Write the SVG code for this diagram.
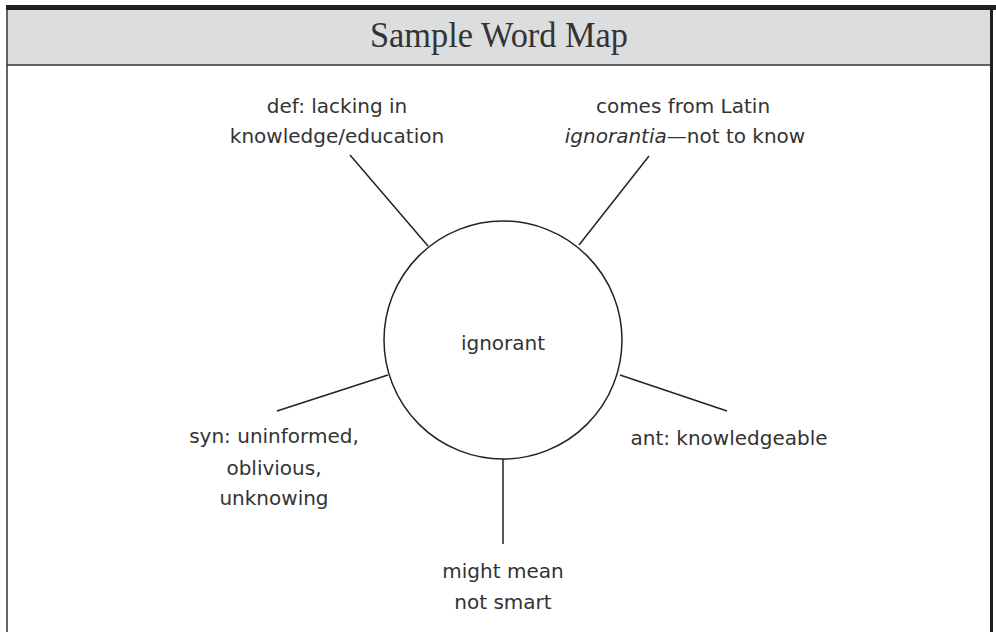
<svg xmlns="http://www.w3.org/2000/svg" width="996" height="632" viewBox="0 0 996 632">
<style>
.t{font-family:"DejaVu Sans","Liberation Sans",sans-serif;font-size:20px;fill:#333;text-anchor:middle}
.c{stroke:#222;stroke-width:1.5;fill:none}
</style>
<rect width="996" height="632" fill="#fff"/>
<g id="frame">
<rect x="7" y="10" width="984" height="55" fill="#dcdddf"/>
<rect x="6" y="5" width="990" height="5" fill="#231f20"/>
<line x1="7" y1="10" x2="7" y2="632" stroke="#333" stroke-width="1.5"/>
<line x1="991.5" y1="10" x2="991.5" y2="632" stroke="#231f20" stroke-width="3"/>
<line x1="7" y1="65" x2="990" y2="65" stroke="#333" stroke-width="1.5"/>
<text x="499" y="47" font-family="Liberation Serif,serif" font-size="35" fill="#333" text-anchor="middle" textLength="258" lengthAdjust="spacingAndGlyphs">Sample Word Map</text>
</g>
<g id="connectors">
<line class="c" x1="350" y1="155" x2="428" y2="246"/>
<line class="c" x1="649" y1="156" x2="579" y2="245"/>
<line class="c" x1="277" y1="411" x2="388" y2="375"/>
<line class="c" x1="620" y1="375" x2="727" y2="411"/>
<line class="c" x1="503" y1="459" x2="503" y2="544"/>
</g>
<g id="center">
<circle class="c" cx="503" cy="340" r="119"/>
<text class="t" x="503" y="350">ignorant</text>
</g>
<g id="def">
<text class="t" x="337" y="113">def: lacking in</text>
<text class="t" x="337" y="143">knowledge/education</text>
</g>
<g id="origin">
<text class="t" x="683" y="113">comes from Latin</text>
<text class="t" x="685" y="143"><tspan font-style="italic">ignorantia</tspan>—not to know</text>
</g>
<g id="syn">
<text class="t" x="274" y="443">syn: uninformed,</text>
<text class="t" x="274" y="475">oblivious,</text>
<text class="t" x="274" y="505">unknowing</text>
</g>
<g id="ant">
<text class="t" x="729" y="445">ant: knowledgeable</text>
</g>
<g id="might">
<text class="t" x="503" y="578">might mean</text>
<text class="t" x="503" y="609">not smart</text>
</g>
</svg>
